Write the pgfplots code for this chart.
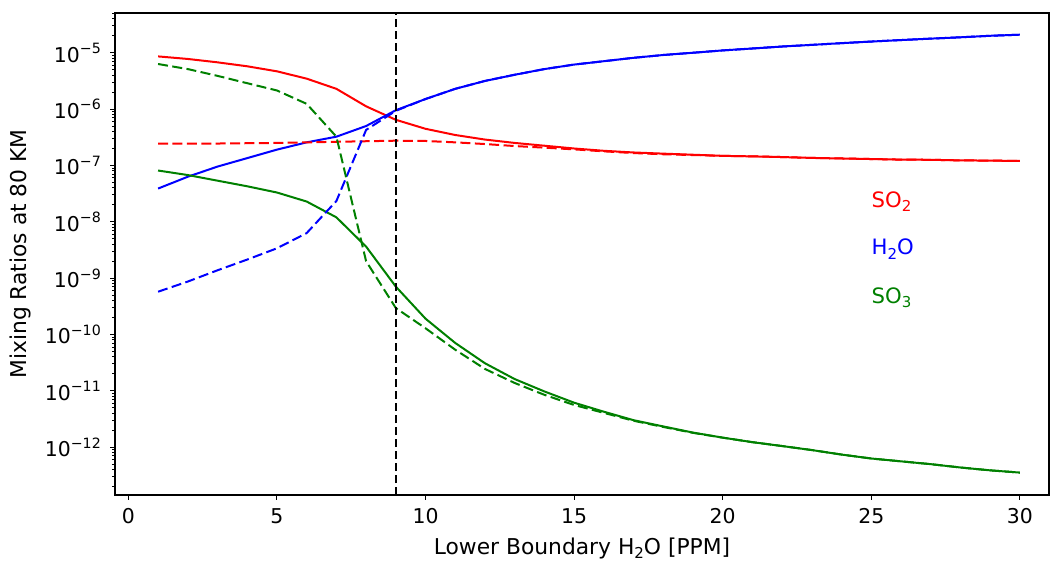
\documentclass[border=0pt]{standalone}
\usepackage{fontspec}
\setmainfont{DejaVu Sans}
\usepackage{pgfplots}
\pgfplotsset{compat=1.18}
\definecolor{mgreen}{rgb}{0,0.5,0}
\newcommand\sups[1]{\raisebox{0.42em}{\fontsize{7.1}{8}\selectfont #1}}
\newcommand\subs[1]{\raisebox{-0.2em}{\fontsize{7.5}{8}\selectfont #1}}
\newcommand\fs{\fontsize{10.2}{12}\selectfont}
\newcommand\fl{\fontsize{10.9}{13}\selectfont}
\newcommand\ft{\fontsize{10.6}{13}\selectfont}
\begin{document}
\begin{tikzpicture}
\begin{axis}[name=ax,
  scale only axis, width=467pt, height=241pt,
  ymode=log,
  xmin=-0.45, xmax=30.98, ymin=1.42e-13, ymax=5.07e-5,
  axis line style={line width=0.6pt},
  tick align=outside, tick pos=left,
  major tick length=2.4pt, minor tick length=1.4pt,
  every tick/.style={black, line width=0.5pt},
  xtick={0,5,10,15,20,25,30},
  ytick={1e-12,1e-11,1e-10,1e-9,1e-8,1e-7,1e-6,1e-5},
  yticklabels={10\sups{−12},10\sups{−11},10\sups{−10},10\sups{−9},10\sups{−8},10\sups{−7},10\sups{−6},10\sups{−5}},
  minor ytick={2e-13,3e-13,4e-13,5e-13,6e-13,7e-13,8e-13,9e-13,
    2e-12,3e-12,4e-12,5e-12,6e-12,7e-12,8e-12,9e-12,
    2e-11,3e-11,4e-11,5e-11,6e-11,7e-11,8e-11,9e-11,
    2e-10,3e-10,4e-10,5e-10,6e-10,7e-10,8e-10,9e-10,
    2e-9,3e-9,4e-9,5e-9,6e-9,7e-9,8e-9,9e-9,
    2e-8,3e-8,4e-8,5e-8,6e-8,7e-8,8e-8,9e-8,
    2e-7,3e-7,4e-7,5e-7,6e-7,7e-7,8e-7,9e-7,
    2e-6,3e-6,4e-6,5e-6,6e-6,7e-6,8e-6,9e-6,
    2e-5,3e-5,4e-5,5e-5},
  every tick label/.append style={font=\fs},
  xticklabel style={anchor=north, inner sep=0pt, yshift=-4.2pt},
  yticklabel style={anchor=east, inner sep=0pt, xshift=-4.5pt},
  /pgf/number format/assume math mode=true,
  xlabel={Lower Boundary H\subs{2}O [PPM]},
  ylabel={Mixing Ratios at 80 KM},
  every axis x label/.style={at={(axis description cs:0.5,0)}, anchor=center, yshift=-26.5pt, font=\fl},
  every axis y label/.style={at={(axis description cs:0,0.5)}, xshift=-47.5pt, rotate=90, anchor=center, font=\fl},
]
% SO2 solid
\addplot[red, line width=1pt] table {
1 8.61e-6
2 7.76e-6
3 6.76e-6
4 5.75e-6
5 4.68e-6
6 3.47e-6
7 2.29e-6
8 1.12e-6
9 6.46e-7
10 4.47e-7
11 3.47e-7
12 2.88e-7
13 2.51e-7
14 2.24e-7
15 2.00e-7
16 1.82e-7
17 1.70e-7
18 1.62e-7
19 1.55e-7
20 1.48e-7
21 1.45e-7
22 1.41e-7
23 1.36e-7
24 1.33e-7
25 1.30e-7
26 1.27e-7
27 1.26e-7
28 1.23e-7
29 1.22e-7
30 1.20e-7
};
% H2O solid
\addplot[blue, line width=1pt] table {
1 3.89e-8
2 6.31e-8
3 9.55e-8
4 1.35e-7
5 1.91e-7
6 2.57e-7
7 3.24e-7
8 5.01e-7
9 9.55e-7
10 1.51e-6
11 2.29e-6
12 3.16e-6
13 4.07e-6
14 5.13e-6
15 6.17e-6
16 7.08e-6
17 8.13e-6
18 9.12e-6
19 1.00e-5
20 1.10e-5
21 1.19e-5
22 1.29e-5
23 1.38e-5
24 1.48e-5
25 1.58e-5
26 1.68e-5
27 1.78e-5
28 1.88e-5
29 2.00e-5
30 2.09e-5
};
% SO3 solid
\addplot[mgreen, line width=1pt] table {
1 8.13e-8
2 6.76e-8
3 5.37e-8
4 4.27e-8
5 3.31e-8
6 2.29e-8
7 1.20e-8
8 3.63e-9
9 7.08e-10
10 1.91e-10
11 7.08e-11
12 3.09e-11
13 1.62e-11
14 9.77e-12
15 6.17e-12
16 4.27e-12
17 3.02e-12
18 2.34e-12
19 1.82e-12
20 1.48e-12
21 1.23e-12
22 1.05e-12
23 8.91e-13
24 7.41e-13
25 6.31e-13
26 5.62e-13
27 5.01e-13
28 4.37e-13
29 3.89e-13
30 3.55e-13
};
% SO2 dashed
\addplot[red, line width=1pt, dash pattern=on 5pt off 2.2pt] table {
1 2.43e-7
2 2.44e-7
3 2.45e-7
4 2.48e-7
5 2.51e-7
6 2.57e-7
7 2.63e-7
8 2.69e-7
9 2.75e-7
10 2.72e-7
11 2.57e-7
12 2.40e-7
13 2.21e-7
14 2.07e-7
15 1.93e-7
16 1.78e-7
17 1.66e-7
18 1.58e-7
19 1.53e-7
20 1.48e-7
21 1.45e-7
22 1.41e-7
23 1.36e-7
24 1.33e-7
25 1.30e-7
26 1.27e-7
27 1.26e-7
28 1.23e-7
29 1.22e-7
30 1.20e-7
};
% H2O dashed
\addplot[blue, line width=1pt, dash pattern=on 5pt off 2.2pt] table {
1 5.75e-10
2 8.71e-10
3 1.38e-9
4 2.14e-9
5 3.39e-9
6 6.31e-9
7 2.34e-8
8 4.27e-7
9 9.33e-7
10 1.51e-6
11 2.29e-6
12 3.16e-6
13 4.07e-6
14 5.13e-6
15 6.17e-6
16 7.08e-6
17 8.13e-6
18 9.12e-6
19 1.00e-5
20 1.10e-5
21 1.19e-5
22 1.29e-5
23 1.38e-5
24 1.48e-5
25 1.58e-5
26 1.68e-5
27 1.78e-5
28 1.88e-5
29 2.00e-5
30 2.09e-5
};
% SO3 dashed
\addplot[mgreen, line width=1pt, dash pattern=on 5pt off 2.2pt] table {
1 6.31e-6
2 5.13e-6
3 3.89e-6
4 2.88e-6
5 2.14e-6
6 1.24e-6
7 3.24e-7
8 2.00e-9
9 2.95e-10
10 1.29e-10
11 5.37e-11
12 2.45e-11
13 1.38e-11
14 8.51e-12
15 5.62e-12
16 4.07e-12
17 2.95e-12
18 2.29e-12
19 1.80e-12
20 1.48e-12
21 1.23e-12
22 1.05e-12
23 8.91e-13
24 7.41e-13
25 6.31e-13
26 5.62e-13
27 5.01e-13
28 4.37e-13
29 3.89e-13
30 3.55e-13
};
% vertical line at x = 9
\addplot[black, line width=0.75pt, dash pattern=on 4pt off 2pt] coordinates {(9,1.42e-13) (9,5.07e-5)};
\node[red, anchor=base west, inner sep=0pt, font=\ft] at (axis cs:25,1.8e-8) {SO\subs{2}};
\node[blue, anchor=base west, inner sep=0pt, font=\ft] at (axis cs:25,2.6e-9) {H\subs{2}O};
\node[mgreen, anchor=base west, inner sep=0pt, font=\ft] at (axis cs:25,3.6e-10) {SO\subs{3}};
\end{axis}
\pgfresetboundingbox
\path ([shift={(-57.5pt,-34pt)}]ax.south west) rectangle ++(525pt,281.5pt);
\end{tikzpicture}
\end{document}
